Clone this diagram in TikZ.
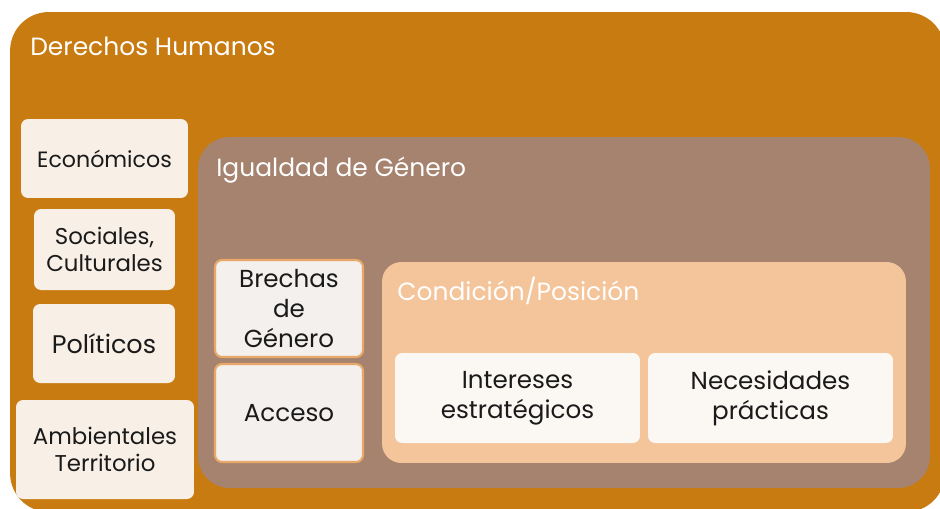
\documentclass[tikz,border=0pt]{standalone}
\usepackage{fontspec}
\setmainfont{Poppins}
\usetikzlibrary{positioning}

\definecolor{ochre}{RGB}{200,123,16}
\definecolor{taupe}{RGB}{165,131,111}
\definecolor{peach}{RGB}{244,196,154}
\definecolor{cream}{RGB}{248,240,230}
\definecolor{shell}{RGB}{244,240,237}
\definecolor{snow}{RGB}{251,247,243}
\definecolor{edge}{RGB}{233,168,104}
\definecolor{ink}{RGB}{26,26,26}

\tikzset{
  frame/.style={rounded corners=#1, inner sep=0pt, outer sep=0pt},
  frame/.default=18pt,
  heading/.style={anchor=west, text=white, inner sep=0pt, font=\fontsize{14.2}{17}\selectfont},
  item/.style={rounded corners=4pt, inner sep=0pt, align=center, text=ink,
    font=\fontsize{14}{17}\selectfont},
  side/.style={item, fill=cream},
  gap/.style={item, fill=shell, draw=edge, line width=1.2pt},
  need/.style={item, fill=snow},
}

\begin{document}
\begin{tikzpicture}[x=0.02cm, y=-0.02cm]
  \useasboundingbox (0,0) rectangle (940,508);

  % Derechos Humanos
  \node[frame=22pt, fill=ochre, minimum width=18.7cm, minimum height=10cm] (dh) at (477.5,262) {};
  \node[heading] (dhtitle) at (30,46) {Derechos Humanos};

  % left column
  \node[side, minimum width=3.34cm, minimum height=1.58cm,
        font=\fontsize{12.6}{15}\selectfont] (econ) at (104.5,158.5) {Económicos};
  \node[side, minimum width=2.82cm, minimum height=1.62cm,
        font=\fontsize{13}{15.3}\selectfont] (soc) at (104.5,249.5) {Sociales,\\Culturales};
  \node[side, minimum width=2.84cm, minimum height=1.58cm,
        font=\fontsize{14.5}{17}\selectfont] (pol) at (104,343.5) {Políticos};
  \node[side, minimum width=3.56cm, minimum height=1.98cm,
        font=\fontsize{13}{15.3}\selectfont] (amb) at (105,449.5) {Ambientales\\Territorio};

  % Igualdad de Genero
  \node[frame=18pt, fill=taupe, minimum width=14.64cm, minimum height=7.02cm] (ig) at (564,312.5) {};
  \node[heading] (igtitle) at (216,170) {Igualdad de Género};

  \node[gap, minimum width=2.96cm, minimum height=1.94cm] (brechas) at (289,308.5) {Brechas\\de\\Género};
  \node[gap, minimum width=2.96cm, minimum height=1.96cm] (acceso) at (289,413) {Acceso};

  % Condicion/Posicion
  \node[frame=11pt, fill=peach, minimum width=10.48cm, minimum height=4.02cm] (cp) at (644,362.5) {};
  \node[heading] (cptitle) at (397,291) {Condición/Posición};

  \node[need, minimum width=4.9cm, minimum height=1.8cm] (intereses) at (517.5,398) {Intereses\\estratégicos};
  \node[need, minimum width=4.9cm, minimum height=1.8cm] (necesidades) at (770.5,398) {Necesidades\\prácticas};
\end{tikzpicture}
\end{document}
